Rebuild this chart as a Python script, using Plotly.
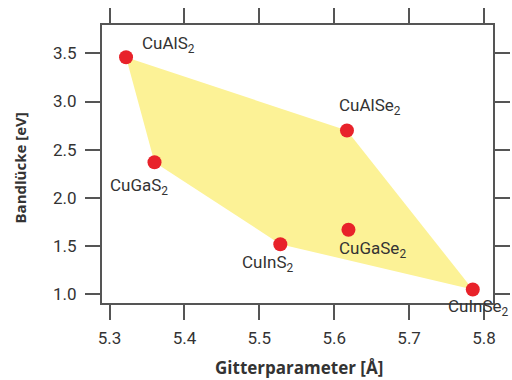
import plotly.graph_objects as go

# Chalkopyrit-Verbindungen: Gitterkonstante a [Å] und Bandlücke [eV]
compounds = ["CuAlS<sub>2</sub>", "CuAlSe<sub>2</sub>", "CuInSe<sub>2</sub>",
             "CuInS<sub>2</sub>", "CuGaS<sub>2</sub>", "CuGaSe<sub>2</sub>"]
lattice = [5.322, 5.617, 5.785, 5.528, 5.360, 5.619]
bandgap = [3.46, 2.70, 1.05, 1.52, 2.37, 1.67]

# Reihenfolge der Eckpunkte des gefüllten Bereichs (Indizes in die Listen oben)
hull_order = [0, 1, 2, 3, 4, 0]

# Label-Versatz in Pixeln (x, y) und Ausrichtung je Verbindung
label_offsets = [(14, 13, "left"), (23, 24, "center"), (6, -18, "center"),
                 (-12, -19, "center"), (-16, -24, "center"), (24, -20, "center")]

fig = go.Figure()

fig.add_trace(go.Scatter(
    x=[lattice[i] for i in hull_order],
    y=[bandgap[i] for i in hull_order],
    fill="toself",
    fillcolor="rgb(252,242,150)",
    line=dict(width=0),
    mode="lines",
    hoverinfo="skip",
    showlegend=False,
))

fig.add_trace(go.Scatter(
    x=lattice,
    y=bandgap,
    mode="markers",
    marker=dict(size=14, color="rgb(232,34,42)"),
    showlegend=False,
))

for name, xv, yv, (dx, dy, anchor) in zip(compounds, lattice, bandgap, label_offsets):
    fig.add_annotation(
        x=xv, y=yv, text=name, showarrow=False,
        xanchor=anchor, yanchor="middle", xshift=dx, yshift=dy,
        font=dict(family="Roboto", size=17, color="#333333"),
    )

axis_common = dict(
    showline=True, linecolor="#555555", linewidth=2,
    mirror="ticks", ticks="outside", ticklen=15, tickwidth=2, tickcolor="#555555",
    showgrid=False, zeroline=False, automargin=False,
    tickfont=dict(family="Roboto", size=17, color="#333333"),
)

fig.update_xaxes(range=[5.2899, 5.812], tickvals=[5.3, 5.4, 5.5, 5.6, 5.7, 5.8],
                 ticktext=["5.3", "5.4", "5.5", "5.6", "5.7", "5.8"],
                 ticklabelstandoff=4, **axis_common)
fig.update_yaxes(range=[0.91, 3.794], tickvals=[1.0, 1.5, 2.0, 2.5, 3.0, 3.5],
                 ticktext=["1.0", "1.5", "2.0", "2.5", "3.0", "3.5"],
                 ticklabelstandoff=5, **axis_common)

fig.add_annotation(
    text="<b>Gitterparameter [Å]</b>", xref="paper", yref="paper",
    x=0.505, y=-0.232, xanchor="center", yanchor="middle", showarrow=False,
    font=dict(family="Open Sans", size=17, color="#333333"),
)
fig.add_annotation(
    text="<b>Bandlücke [eV]</b>", xref="paper", yref="paper",
    x=-0.21, y=0.487, xanchor="center", yanchor="middle", showarrow=False,
    textangle=-90,
    font=dict(family="Open Sans", size=15, color="#333333"),
)

fig.update_layout(
    width=512, height=380,
    margin=dict(l=102, r=19, t=25, b=77),
    plot_bgcolor="white", paper_bgcolor="white",
)

fig.write_html("out.html")
